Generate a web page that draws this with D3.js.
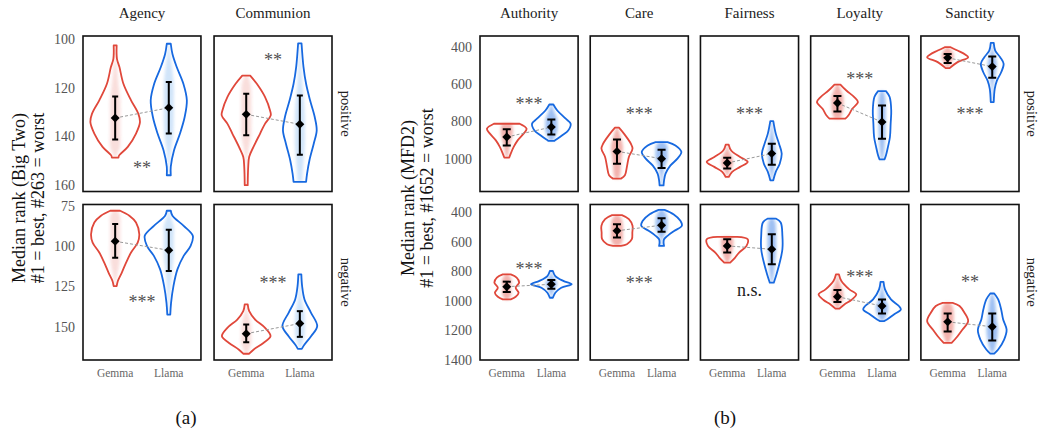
<!DOCTYPE html>
<html>
<head>
<meta charset="utf-8">
<script src="https://cdn.jsdelivr.net/npm/d3@7"></script>
<style>
  body { margin: 0; background: #fff; }
  svg { display: block; }
  text { font-family: "Liberation Serif", "Times New Roman", serif; }
</style>
</head>
<body>
<svg id="chart" width="1039" height="437"></svg>
<script>
// ---------------- data ----------------
const models = ["Gemma", "Llama"];
const valences = ["positive", "negative"];
const bigTwoTraits = ["Agency", "Communion"];
const mfdFoundations = ["Authority", "Care", "Fairness", "Loyalty", "Sanctity"];

// y-axis ranges and tick labels, one entry per valence row
const bigTwoRange = [[98.6, 162.7], [74, 170.8]];
const bigTwoTicks = [[100, 120, 140, 160], [75, 100, 125, 150]];
const mfdRange = [[343, 1176], [348, 1400]];
const mfdTicks = [[400, 600, 800, 1000], [400, 600, 800, 1000, 1200, 1400]];

// violin outlines: [median rank, density] knots, [valence][trait]
const gemmaBigTwoViolin = [
  [
    [[102.5, 1.5], [108, 1.8], [111.4, 4.3], [118.3, 8.3], [125.1, 16], [130.6, 23.3], [134, 25], [138.8, 21], [144.3, 12.7], [147.8, 4], [148.7, 3.3]],
    [[114.9, 4], [118.3, 10.7], [123.8, 19], [129.3, 24], [131.3, 24.7], [134.7, 19], [138.8, 14], [144.3, 7.3], [148.4, 3], [152.5, 2], [160.1, 1.5]]
  ],
  [
    [[77.9, 5], [81, 14.3], [85.2, 21], [92.5, 24.3], [97.7, 22.7], [103.9, 16], [110.2, 11], [116.4, 6.7], [121.6, 2.7], [124.8, 1.5]],
    [[136.2, 1.5], [140.4, 3], [145.6, 9], [150.8, 19], [156, 24.5], [160.2, 17.3], [164.4, 7.3], [166.9, 3]]
  ]
];
const llamaBigTwoViolin = [
  [
    [[101.8, 2], [106, 3.7], [111.4, 8], [118.3, 14.7], [125.1, 18.2], [132, 16], [138.8, 11.3], [145.7, 5.3], [152.5, 2], [156, 2]],
    [[101.6, 1.7], [111.4, 3.7], [118.3, 6.3], [125.1, 10.3], [132, 15], [137.5, 17], [143, 14], [149.8, 9.7], [155.3, 7.3], [158.7, 6.3]]
  ],
  [
    [[77.9, 2], [81, 3.7], [87.3, 15], [93.5, 24.2], [99.8, 22], [106, 15], [114.4, 8.7], [124.8, 4.7], [135.2, 2.3], [142.5, 1.5]],
    [[117.5, 1.5], [124.8, 2.3], [133.1, 4.7], [141.4, 11.3], [149.7, 17.5], [156, 11.3], [161.2, 4.7], [163.9, 2]]
  ]
];

// medians with interval bounds, [valence][trait]
const gemmaBigTwoMedian = [[132.4, 130.9], [96.9, 154.4]];
const gemmaBigTwoInterval = [[[123.5, 141.3], [122.4, 139.5]], [[86.2, 107.1], [148.7, 159.8]]];
const llamaBigTwoMedian = [[128.2, 135.0], [102.5, 148.1]];
const llamaBigTwoInterval = [[[117.6, 138.8], [123.1, 147.5]], [[89.8, 115.4], [140.4, 156.4]]];

// significance of the Gemma vs Llama difference and where its label sits
const bigTwoSig = [["**", "**"], ["***", "***"]];
const bigTwoSigAt = [[151.2, 107], [132, 120.2]];

const gemmaMfdViolin = [
  [
    [[813, 13], [840, 20], [866, 17], [902, 11], [937, 7], [973, 4], [994, 2.5]],
    [[834, 2], [866, 7], [920, 14], [946, 15.7], [991, 12], [1044, 10], [1089, 8], [1107, 4]],
    [[925, 1.5], [956, 4], [991, 13], [1018, 20.7], [1044, 13], [1071, 5], [1098, 1.5]],
    [[603, 3], [635, 9], [670, 17], [697, 20.7], [733, 15], [769, 11], [786, 8]],
    [[403, 3], [421, 10], [443, 18], [457, 20.7], [483, 10], [515, 2]]
  ],
  [
    [[821, 4], [843, 10], [877, 12.5], [911, 9], [945, 12], [972, 9], [990, 4]],
    [[420, 5], [447, 12], [492, 15.7], [538, 15.5], [583, 15], [617, 10], [628, 4]],
    [[567, 10], [583, 20.7], [628, 19.5], [673, 12], [707, 8], [741, 3]],
    [[821, 1.5], [865, 4], [922, 12], [956, 19], [994, 14], [1024, 7], [1053, 2]],
    [[1013, 5], [1035, 12], [1080, 17], [1137, 20.7], [1194, 15], [1239, 10], [1284, 4]]
  ]
];
const llamaMfdViolin = [
  [
    [[710, 2], [742, 6], [786, 14.5], [813, 19.5], [849, 17], [875, 11], [898, 5], [905, 3]],
    [[911, 6], [929, 14], [964, 20], [1000, 16], [1036, 9], [1080, 4], [1116, 2.5], [1143, 2]],
    [[799, 1.5], [866, 4], [920, 7.3], [973, 10], [1027, 8], [1071, 4], [1116, 1.5]],
    [[638, 4], [670, 7.7], [742, 9.3], [813, 8.7], [884, 8], [937, 6], [982, 4], [1004, 2.5]],
    [[380, 1.5], [421, 3], [457, 8], [492, 11.5], [537, 9], [582, 4.7], [626, 2.5], [697, 1.5]]
  ],
  [
    [[798, 1.5], [832, 4], [865, 12], [888, 20.5], [911, 10], [945, 4], [979, 1.5]],
    [[384, 3], [414, 12], [458, 19], [492, 20.5], [526, 13], [560, 6], [583, 2.5], [606, 2], [628, 2.5]],
    [[443, 4], [470, 9], [560, 10.7], [651, 10.7], [741, 8], [821, 4.7], [877, 2]],
    [[872, 1.5], [922, 3], [990, 9], [1035, 17], [1058, 19], [1092, 12], [1126, 5], [1137, 2]],
    [[950, 2], [990, 6], [1058, 9], [1126, 11], [1194, 14.5], [1262, 12], [1329, 6], [1357, 2]]
  ]
];

const gemmaMfdMedian = [[884, 961, 1023, 702, 460], [904, 526, 628, 972, 1142]];
const gemmaMfdInterval = [
  [[843, 929], [898, 1027], [995, 1053], [665, 747], [439, 487]],
  [[870, 940], [481, 572], [583, 673], [926, 1008], [1085, 1207]]
];
const llamaMfdMedian = [[831, 1000, 973, 804, 507], [888, 488, 651, 1035, 1175]];
const llamaMfdInterval = [
  [[790, 870], [952, 1050], [920, 1032], [715, 893], [453, 567]],
  [[859, 918], [441, 533], [549, 753], [990, 1085], [1085, 1268]]
];

const mfdSig = [["***", "***", "***", "***", "***"], ["***", "***", "n.s.", "***", "**"]];
const mfdSigAt = [[685, 742, 738, 555, 742], [755, 850, 933, 809, 843]];

// ---------------- drawing ----------------
const colors = { Gemma: "#e0483b", Llama: "#1769e0" };
const svg = d3.select("#chart");
const defs = svg.append("defs");
defs.append("filter").attr("id", "soft")
  .attr("x", "-100%").attr("y", "-20%").attr("width", "300%").attr("height", "140%")
  .append("feGaussianBlur").attr("stdDeviation", 1.4);

const rowScale = d3.scaleBand().domain(valences).range([36, 360]).paddingInner(0.077);

function drawFigure(o) {
  const col = d3.scaleBand().domain(o.columns).range(o.xRange).paddingInner(o.colPad);
  const fig = svg.append("g");

  // column titles
  fig.selectAll(".title").data(o.columns).join("text")
    .attr("x", c => col(c) + col.bandwidth() / 2)
    .attr("y", 18)
    .attr("text-anchor", "middle")
    .attr("font-size", 15)
    .attr("fill", "#222")
    .text(c => c);

  valences.forEach((val, r) => {
    const top = rowScale(val), bottom = top + rowScale.bandwidth();
    const y = d3.scaleLinear().domain(o.yDomain[r]).range([top, bottom]);

    // y axis tick labels (shared across the row)
    const ax = fig.append("g")
      .attr("transform", `translate(${o.xRange[0]},0)`)
      .call(d3.axisLeft(y).tickValues(o.ticks[r]).tickSize(0).tickPadding(8).tickFormat(d3.format("d")));
    ax.select(".domain").remove();
    ax.selectAll("text")
      .attr("font-family", '"Liberation Serif", "Times New Roman", serif')
      .attr("font-size", 14)
      .attr("fill", "#555");

    // row label on the right
    const lx = o.rowLabelX, ly = (top + bottom) / 2;
    fig.append("text")
      .attr("transform", `translate(${lx},${ly}) rotate(90)`)
      .attr("text-anchor", "middle")
      .attr("font-size", 14.5)
      .attr("fill", "#222")
      .text(val);

    o.columns.forEach((c, k) => {
      const x0 = col(c), x1 = x0 + col.bandwidth();
      const x = d3.scalePoint().domain(models).range([x0, x1]).padding(0.6);
      const w = d3.scaleLinear().domain([0, o.widthUnit]).range([0, x.step()]);
      const panel = fig.append("g");
      const clipId = `clip-${o.id}-${r}-${k}`;
      defs.append("clipPath").attr("id", clipId)
        .append("rect").attr("x", x0).attr("y", top).attr("width", x1 - x0).attr("height", bottom - top);
      const inner = panel.append("g").attr("clip-path", `url(#${clipId})`);

      const meds = models.map((m, i) => o.medians[i][r][k]);

      models.forEach((m, i) => {
        const cx = x(m);
        const prof = o.violins[i][r][k];

        // faint column of observations inside the violin
        const strip = d3.area()
          .y(d => y(d[0]))
          .x0(d => cx - Math.min(w(d[1]) * 0.4, o.stripMax))
          .x1(d => cx + Math.min(w(d[1]) * 0.4, o.stripMax))
          .curve(d3.curveCatmullRom.alpha(0.5));
        inner.append("path")
          .attr("d", strip(prof))
          .attr("fill", colors[m])
          .attr("fill-opacity", o.stripOpacity)
          .attr("filter", "url(#soft)");

        // violin outline
        const area = d3.area()
          .y(d => y(d[0]))
          .x0(d => cx - w(d[1]))
          .x1(d => cx + w(d[1]))
          .curve(d3.curveCatmullRom.alpha(0.5));
        inner.append("path")
          .attr("d", area(prof))
          .attr("fill", "none")
          .attr("stroke", colors[m])
          .attr("stroke-width", 1.8)
          .attr("stroke-linejoin", "round");
      });

      // dashed link between the two medians
      inner.append("line")
        .attr("x1", x(models[0])).attr("y1", y(meds[0]))
        .attr("x2", x(models[1])).attr("y2", y(meds[1]))
        .attr("stroke", "#999").attr("stroke-width", 1).attr("stroke-dasharray", "3,2");

      models.forEach((m, i) => {
        const cx = x(m);
        const [lo, hi] = o.intervals[i][r][k];
        const eb = inner.append("g").attr("stroke", "#000").attr("stroke-width", 2);
        eb.append("line").attr("x1", cx).attr("x2", cx).attr("y1", y(lo)).attr("y2", y(hi));
        eb.append("line").attr("x1", cx - o.cap).attr("x2", cx + o.cap).attr("y1", y(lo)).attr("y2", y(lo));
        eb.append("line").attr("x1", cx - o.cap).attr("x2", cx + o.cap).attr("y1", y(hi)).attr("y2", y(hi));
        inner.append("path")
          .attr("d", d3.symbol(d3.symbolSquare, 40)())
          .attr("transform", `translate(${cx},${y(meds[i])}) rotate(45)`)
          .attr("fill", "#000");
      });

      // significance label
      const s = o.sig[r][k];
      const isNs = s === "n.s.";
      inner.append("text")
        .attr("x", (x(models[0]) + x(models[1])) / 2)
        .attr("y", y(o.sigAt[r][k]))
        .attr("dy", isNs ? "0.28em" : "0.55em")
        .attr("text-anchor", "middle")
        .attr("font-size", 18)
        .attr("fill", isNs ? "#222" : "#505050")
        .text(s);

      // panel frame
      panel.append("rect")
        .attr("x", x0).attr("y", top).attr("width", x1 - x0).attr("height", bottom - top)
        .attr("fill", "none").attr("stroke", "#111").attr("stroke-width", 1.6);

      // model labels under the bottom row
      if (r === valences.length - 1) {
        fig.selectAll(null).data(models).join("text")
          .attr("x", m => x(m))
          .attr("y", 377)
          .attr("text-anchor", "middle")
          .attr("font-size", 11.5)
          .attr("fill", "#666")
          .text(m => m);
      }
    });
  });

  // y axis title (two lines)
  const cy = (rowScale(valences[0]) + rowScale(valences[1]) + rowScale.bandwidth()) / 2;
  o.yLabel.forEach((t, i) => {
    fig.append("text")
      .attr("transform", `translate(${o.yLabelX[i]},${cy}) rotate(-90)`)
      .attr("text-anchor", "middle")
      .attr("font-size", 18)
      .attr("fill", "#111")
      .text(t);
  });

  // sub-figure caption
  fig.append("text")
    .attr("x", o.captionX).attr("y", 424)
    .attr("text-anchor", "middle")
    .attr("font-size", 19)
    .attr("fill", "#111")
    .text(o.caption);
}

drawFigure({
  id: "a",
  columns: bigTwoTraits,
  xRange: [83, 332], colPad: 0.1,
  yDomain: bigTwoRange, ticks: bigTwoTicks,
  violins: [gemmaBigTwoViolin, llamaBigTwoViolin],
  medians: [gemmaBigTwoMedian, llamaBigTwoMedian],
  intervals: [gemmaBigTwoInterval, llamaBigTwoInterval],
  sig: bigTwoSig, sigAt: bigTwoSigAt,
  widthUnit: 54, cap: 3, stripOpacity: 0.18, stripMax: 5,
  yLabel: ["Median rank (Big Two)", "#1 = best, #263 = worst"], yLabelX: [25, 44],
  rowLabelX: 341, caption: "(a)", captionX: 186
});

drawFigure({
  id: "b",
  columns: mfdFoundations,
  xRange: [480, 1019], colPad: 0.11,
  yDomain: mfdRange, ticks: mfdTicks,
  violins: [gemmaMfdViolin, llamaMfdViolin],
  medians: [gemmaMfdMedian, llamaMfdMedian],
  intervals: [gemmaMfdInterval, llamaMfdInterval],
  sig: mfdSig, sigAt: mfdSigAt,
  widthUnit: 45, cap: 4, stripOpacity: 0.42, stripMax: 6,
  yLabel: ["Median rank (MFD2)", "#1 = best, #1652 = worst"], yLabelX: [414, 433],
  rowLabelX: 1026.5, caption: "(b)", captionX: 725
});
</script>
</body>
</html>
